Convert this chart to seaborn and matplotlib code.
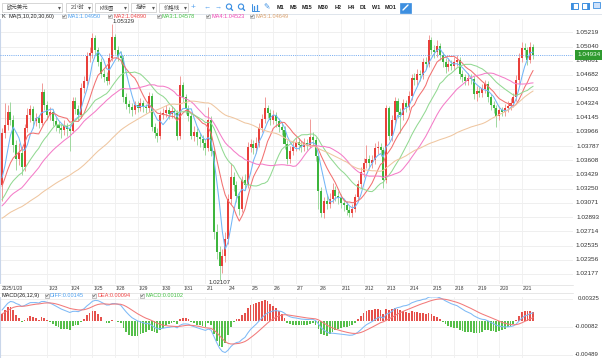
import numpy as np
import pandas as pd
import matplotlib
matplotlib.use("Agg")
import matplotlib.pyplot as plt
import matplotlib.transforms as mtransforms
from matplotlib.patches import Rectangle, Circle
import seaborn as sns

# ---------------- data ----------------
prior_closes = [
    1.0262, 1.0256, 1.0265, 1.0269, 1.0260, 1.0253, 1.0258, 1.0266, 1.0274, 1.0270,
    1.0277, 1.0273, 1.0264, 1.0268, 1.0275, 1.0281, 1.0273, 1.0267, 1.0263, 1.0271,
    1.0278, 1.0284, 1.0280, 1.0273, 1.0277, 1.0286, 1.0291, 1.0283, 1.0279, 1.0288,
    1.0295, 1.0290, 1.0284, 1.0282, 1.0289, 1.0293, 1.0286, 1.0281, 1.0287, 1.0292,
    1.0291, 1.0286, 1.0280, 1.0284, 1.0290, 1.0296, 1.0302, 1.0298, 1.0305, 1.0311,
    1.0307, 1.0315, 1.0322, 1.0318, 1.0326, 1.0333, 1.0321, 1.0316, 1.0329,
]

opens = [
    1.0330, 1.0395, 1.0405, 1.0421, 1.0412, 1.0380, 1.0362, 1.0370, 1.0352, 1.0401,
    1.0418, 1.0425, 1.0410, 1.0414, 1.0408, 1.0447, 1.0430, 1.0418, 1.0421, 1.0410,
    1.0405, 1.0402, 1.0399, 1.0404, 1.0400, 1.0398, 1.0436, 1.0425, 1.0418, 1.0452,
    1.0460, 1.0492, 1.0496, 1.0515, 1.0499, 1.0485, 1.0470, 1.0466, 1.0461, 1.0490,
    1.0516, 1.0500, 1.0492, 1.0489, 1.0440, 1.0432, 1.0428, 1.0424, 1.0431, 1.0427,
    1.0433, 1.0428, 1.0426, 1.0442, 1.0403, 1.0395, 1.0392, 1.0418, 1.0420, 1.0424,
    1.0419, 1.0423, 1.0420, 1.0391, 1.0455, 1.0440, 1.0425, 1.0416, 1.0392, 1.0397,
    1.0390, 1.0387, 1.0382, 1.0376, 1.0412, 1.0372, 1.0270, 1.0245, 1.0228, 1.0240,
    1.0262, 1.0312, 1.0340, 1.0330, 1.0316, 1.0300, 1.0336, 1.0330, 1.0378, 1.0381,
    1.0376, 1.0383, 1.0402, 1.0413, 1.0426, 1.0420, 1.0412, 1.0418, 1.0410, 1.0403,
    1.0399, 1.0381, 1.0362, 1.0373, 1.0378, 1.0384, 1.0380, 1.0377, 1.0383, 1.0380,
    1.0390, 1.0386, 1.0366, 1.0322, 1.0294, 1.0309, 1.0306, 1.0312, 1.0323, 1.0316,
    1.0313, 1.0307, 1.0304, 1.0298, 1.0295, 1.0300, 1.0314, 1.0331, 1.0346, 1.0358,
    1.0362, 1.0357, 1.0361, 1.0376, 1.0378, 1.0374, 1.0336, 1.0426, 1.0392, 1.0412,
    1.0435, 1.0421, 1.0418, 1.0433, 1.0428, 1.0442, 1.0465, 1.0462, 1.0470, 1.0468,
    1.0484, 1.0482, 1.0512, 1.0500, 1.0497, 1.0505, 1.0493, 1.0485, 1.0478, 1.0482,
    1.0480, 1.0485, 1.0487, 1.0469, 1.0466, 1.0461, 1.0465, 1.0463, 1.0444, 1.0448,
    1.0446, 1.0451, 1.0457, 1.0440, 1.0430, 1.0427, 1.0417, 1.0424, 1.0422, 1.0427,
    1.0429, 1.0433, 1.0440, 1.0462, 1.0490, 1.0502, 1.0499, 1.0487, 1.0503,
]

highs = [
    1.0401, 1.0433, 1.0431, 1.0434, 1.0418, 1.0386, 1.0383, 1.0375, 1.0407, 1.0427,
    1.0431, 1.0429, 1.0420, 1.0418, 1.0458, 1.0451, 1.0435, 1.0428, 1.0425, 1.0415,
    1.0410, 1.0407, 1.0411, 1.0408, 1.0405, 1.0441, 1.0440, 1.0430, 1.0458, 1.0467,
    1.0497, 1.0503, 1.0521, 1.0519, 1.0503, 1.0490, 1.0476, 1.0472, 1.0496, 1.05329,
    1.0520, 1.0505, 1.0498, 1.0493, 1.0446, 1.0437, 1.0433, 1.0436, 1.0435, 1.0439,
    1.0437, 1.0432, 1.0447, 1.0445, 1.0408, 1.0401, 1.0423, 1.0426, 1.0430, 1.0428,
    1.0429, 1.0427, 1.0424, 1.0467, 1.0459, 1.0444, 1.0430, 1.0420, 1.0404, 1.0401,
    1.0395, 1.0393, 1.0388, 1.0428, 1.0416, 1.0376, 1.0281, 1.0253, 1.0249, 1.0270,
    1.0318, 1.0357, 1.0346, 1.0335, 1.0321, 1.0341, 1.0344, 1.0384, 1.0388, 1.0386,
    1.0390, 1.0408, 1.0419, 1.0440, 1.0431, 1.0425, 1.0424, 1.0422, 1.0414, 1.0409,
    1.0404, 1.0386, 1.0379, 1.0385, 1.0390, 1.0389, 1.0385, 1.0389, 1.0388, 1.0413,
    1.0396, 1.0390, 1.0370, 1.0327, 1.0315, 1.0318, 1.0320, 1.0332, 1.0328, 1.0322,
    1.0318, 1.0312, 1.0309, 1.0303, 1.0306, 1.0319, 1.0336, 1.0352, 1.0364, 1.0380,
    1.0368, 1.0367, 1.0382, 1.0385, 1.0383, 1.0378, 1.0431, 1.0429, 1.0418, 1.0441,
    1.0439, 1.0426, 1.0438, 1.0437, 1.0448, 1.0470, 1.0471, 1.0476, 1.0475, 1.0490,
    1.0491, 1.0519, 1.0516, 1.0506, 1.0512, 1.0509, 1.0497, 1.0489, 1.0488, 1.0487,
    1.0491, 1.0493, 1.0491, 1.0474, 1.0470, 1.0471, 1.0470, 1.0467, 1.0454, 1.0453,
    1.0457, 1.0462, 1.0460, 1.0444, 1.0435, 1.0431, 1.0429, 1.0428, 1.0432, 1.0435,
    1.0439, 1.0446, 1.0468, 1.0496, 1.0510, 1.0509, 1.0504, 1.0510, 1.0507,
]

lows = [
    1.0309, 1.0389, 1.0399, 1.0405, 1.0371, 1.0348, 1.0355, 1.0342, 1.0347, 1.0396,
    1.0409, 1.0402, 1.0404, 1.0401, 1.0405, 1.0424, 1.0412, 1.0411, 1.0404, 1.0398,
    1.0395, 1.0389, 1.0393, 1.0392, 1.0372, 1.0395, 1.0419, 1.0411, 1.0414, 1.0445,
    1.0455, 1.0485, 1.0490, 1.0493, 1.0479, 1.0464, 1.0459, 1.0456, 1.0457, 1.0486,
    1.0494, 1.0486, 1.0482, 1.0434, 1.0425, 1.0420, 1.0417, 1.0419, 1.0421, 1.0423,
    1.0422, 1.0420, 1.0422, 1.0398, 1.0389, 1.0384, 1.0388, 1.0413, 1.0415, 1.0413,
    1.0414, 1.0414, 1.0386, 1.0388, 1.0434, 1.0419, 1.0410, 1.0387, 1.0385, 1.0380,
    1.0377, 1.0374, 1.0368, 1.0372, 1.0366, 1.0262, 1.0236, 1.02107, 1.0219, 1.0233,
    1.0255, 1.0306, 1.0322, 1.0308, 1.0292, 1.0296, 1.0324, 1.0326, 1.0371, 1.0369,
    1.0370, 1.0378, 1.0396, 1.0408, 1.0414, 1.0405, 1.0406, 1.0403, 1.0397, 1.0393,
    1.0375, 1.0356, 1.0357, 1.0367, 1.0372, 1.0374, 1.0371, 1.0372, 1.0374, 1.0376,
    1.0380, 1.0360, 1.0300, 1.0289, 1.0288, 1.0300, 1.0301, 1.0307, 1.0310, 1.0306,
    1.0301, 1.0297, 1.0292, 1.0289, 1.0290, 1.0296, 1.0309, 1.0326, 1.0340, 1.0351,
    1.0350, 1.0351, 1.0356, 1.0369, 1.0366, 1.0326, 1.0332, 1.0386, 1.0385, 1.0406,
    1.0414, 1.0395, 1.0412, 1.0421, 1.0424, 1.0437, 1.0455, 1.0456, 1.0461, 1.0463,
    1.0476, 1.0478, 1.0494, 1.0490, 1.0491, 1.0487, 1.0478, 1.0471, 1.0473, 1.0474,
    1.0475, 1.0480, 1.0463, 1.0459, 1.0455, 1.0456, 1.0457, 1.0438, 1.0436, 1.0440,
    1.0441, 1.0446, 1.0434, 1.0424, 1.0420, 1.0403, 1.0412, 1.0416, 1.0417, 1.0421,
    1.0424, 1.0428, 1.0436, 1.0457, 1.0484, 1.0491, 1.0481, 1.0483, 1.0488,
]

closes = [
    1.0395, 1.0405, 1.0421, 1.0412, 1.0380, 1.0362, 1.0370, 1.0352, 1.0401, 1.0418,
    1.0425, 1.0410, 1.0414, 1.0408, 1.0447, 1.0430, 1.0418, 1.0421, 1.0410, 1.0405,
    1.0402, 1.0399, 1.0404, 1.0400, 1.0398, 1.0436, 1.0425, 1.0418, 1.0452, 1.0460,
    1.0492, 1.0496, 1.0515, 1.0499, 1.0485, 1.0470, 1.0466, 1.0461, 1.0490, 1.0516,
    1.0500, 1.0492, 1.0489, 1.0440, 1.0432, 1.0428, 1.0424, 1.0431, 1.0427, 1.0433,
    1.0428, 1.0426, 1.0442, 1.0403, 1.0395, 1.0392, 1.0418, 1.0420, 1.0424, 1.0419,
    1.0423, 1.0420, 1.0391, 1.0455, 1.0440, 1.0425, 1.0416, 1.0392, 1.0397, 1.0390,
    1.0387, 1.0382, 1.0376, 1.0412, 1.0372, 1.0270, 1.0245, 1.0228, 1.0240, 1.0262,
    1.0312, 1.0340, 1.0330, 1.0316, 1.0300, 1.0336, 1.0330, 1.0378, 1.0381, 1.0376,
    1.0383, 1.0402, 1.0413, 1.0426, 1.0420, 1.0412, 1.0418, 1.0410, 1.0403, 1.0399,
    1.0381, 1.0362, 1.0373, 1.0378, 1.0384, 1.0380, 1.0377, 1.0383, 1.0380, 1.0390,
    1.0386, 1.0366, 1.0322, 1.0294, 1.0309, 1.0306, 1.0312, 1.0323, 1.0316, 1.0313,
    1.0307, 1.0304, 1.0298, 1.0295, 1.0300, 1.0314, 1.0331, 1.0346, 1.0358, 1.0362,
    1.0357, 1.0361, 1.0376, 1.0378, 1.0374, 1.0336, 1.0426, 1.0392, 1.0412, 1.0435,
    1.0421, 1.0418, 1.0433, 1.0428, 1.0442, 1.0465, 1.0462, 1.0470, 1.0468, 1.0484,
    1.0482, 1.0512, 1.0500, 1.0497, 1.0505, 1.0493, 1.0485, 1.0478, 1.0482, 1.0480,
    1.0485, 1.0487, 1.0469, 1.0466, 1.0461, 1.0465, 1.0463, 1.0444, 1.0448, 1.0446,
    1.0451, 1.0457, 1.0440, 1.0430, 1.0427, 1.0417, 1.0424, 1.0422, 1.0427, 1.0429,
    1.0433, 1.0440, 1.0462, 1.0490, 1.0502, 1.0499, 1.0487, 1.0503, 1.04934,
]

date_labels = ["2025/1/20", "1/23", "1/24", "1/25", "1/28", "1/29", "1/30", "1/31",
               "2/1", "2/4", "2/5", "2/6", "2/7", "2/8", "2/11", "2/12", "2/13",
               "2/14", "2/15", "2/18", "2/19", "2/20", "2/21"]
price_ticks = ["1.05219", "1.05040", "1.04861", "1.04682", "1.04503", "1.04324",
               "1.04145", "1.03966", "1.03787", "1.03608", "1.03429", "1.03250",
               "1.03071", "1.02893", "1.02714", "1.02535", "1.02356", "1.02177"]
macd_ticks = ["0.00325", "-0.00082", "-0.00489"]

ma_periods = [5, 10, 20, 30, 60]
ma_names = ["MA1", "MA2", "MA3", "MA4", "MA5"]
ma_values = ["1.04950", "1.04890", "1.04578", "1.04523", "1.04649"]
ma_text_colors = ["#4a9ff0", "#f04444", "#44c044", "#f046b4", "#d9a06c"]
ma_line_colors = ["#72b6f7", "#f27070", "#92d992", "#f47cc8", "#efc6a0"]
macd_names = ["DIFF", "DEA", "MACD"]
macd_values = ["0.00145", "0.00094", "0.00102"]

toolbar_menus = ["欧元美元", "2小时", "K线图", "指标", "价格线"]
timeframes = ["M1", "M5", "M15", "M30", "H2", "H4", "D1", "W1", "MO1"]

# ---------------- style ----------------
sns.set_theme(style="white")
plt.rcParams['font.family'] = ['Liberation Sans', 'Noto Sans CJK SC', 'DejaVu Sans']
plt.rcParams['axes.unicode_minus'] = False

W, H = 602, 361
fig = plt.figure(figsize=(W / 100, H / 100), dpi=100)
fig.patch.set_facecolor("white")

PX0, STEP = 2.0, 2.825          # pixel of first bar, pixels per bar
PLOT_RIGHT = 573


def axes_px(x0, y0, x1, y1, **kw):
    return fig.add_axes([x0 / W, 1 - y1 / H, (x1 - x0) / W, (y1 - y0) / H], **kw)


O = np.array(opens); Hh = np.array(highs); L = np.array(lows); C = np.array(closes)
N = len(C)
xs = np.arange(N)

all_close = pd.Series(prior_closes + closes)
n0 = len(prior_closes)
mas = [all_close.rolling(p).mean().iloc[n0:].to_numpy() for p in ma_periods]
ema12 = all_close.ewm(span=12, adjust=False).mean()
ema26 = all_close.ewm(span=26, adjust=False).mean()
diff = ema12 - ema26
dea = diff.ewm(span=9, adjust=False).mean()
hist = (2 * (diff - dea)).iloc[n0:].to_numpy()
diff_v = diff.iloc[n0:].to_numpy()
dea_v = dea.iloc[n0:].to_numpy()

RED, GREEN = "#e8403b", "#3db53d"

# ---------------- main price axes ----------------
top_px, bot_px = 19, 284
tick_vals = [float(t) for t in price_ticks]
k = (tick_vals[0] - tick_vals[-1]) / (274.0 - 32.3)
ax = axes_px(0, top_px, PLOT_RIGHT, bot_px)
ax.set_ylim(tick_vals[0] - (bot_px - 32.3) * k, tick_vals[0] + (32.3 - top_px) * k)
ax.set_xlim((0 - PX0) / STEP, (PLOT_RIGHT - PX0) / STEP)
for s in ax.spines.values():
    s.set_visible(False)
ax.set_xticks([]); ax.set_yticks([])
ax.set_facecolor("white")

grid_bars = [16 + 8 * i for i in range(len(date_labels) - 1)]
for t in tick_vals:
    ax.axhline(t, color="#ececec", lw=0.6, zorder=0)
for b in grid_bars:
    ax.axvline(b, color="#efefef", lw=0.6, zorder=0)
ax.axvline(ax.get_xlim()[0] + 0.15, color="#c9d6ea", lw=0.8, zorder=0)

up = C >= O
body_col = np.where(up, RED, GREEN)
wick_col = np.where(up, "#f19a97", "#9fd89f")
ax.vlines(xs, L, Hh, colors=wick_col, lw=0.7, zorder=2)
ax.bar(xs, np.maximum(np.abs(C - O), 0.00004), bottom=np.minimum(O, C),
       width=0.72, color=body_col, linewidth=0, zorder=3)

for m, col in zip(mas, ma_line_colors):
    sns.lineplot(x=xs, y=m, ax=ax, color=col, linewidth=0.75, zorder=4,
                 legend=False, errorbar=None)
ax.set_xlabel(""); ax.set_ylabel("")
ax.set_xticks([]); ax.set_yticks([])

# current price line + label
ax.axhline(C[-1], color="#6aa5ef", lw=0.6, ls=(0, (1.3, 1.3)), zorder=5)
blend = mtransforms.blended_transform_factory(ax.transAxes, ax.transData)
for t, lab in zip(tick_vals, price_ticks):
    ax.text(599 / PLOT_RIGHT, t, lab, transform=blend, ha="right", va="center",
            fontsize=4.6, color="#333333", clip_on=False, zorder=6)
ax.text(577 / PLOT_RIGHT, C[-1], f"{C[-1]:.5f}", transform=blend, ha="left",
        va="center", fontsize=4.6, color="#eaffea", clip_on=False, zorder=8,
        bbox=dict(boxstyle="square,pad=0.35", fc="#2f9a2f", ec="#2f9a2f", lw=0))

# high / low annotations
ih = int(np.argmax(Hh)); il = int(np.argmin(L))
ax.text(ih, Hh[ih], f"{Hh[ih]:.5f}", ha="left", va="bottom", fontsize=4.4,
        color="#333333", clip_on=False, zorder=7)
ax.text(il, L[il], f"{L[il]:.5f}", ha="center", va="top", fontsize=4.4,
        color="#333333", clip_on=False, zorder=7)

# ---------------- MACD axes ----------------
mt_px, mb_px = 297, 358
mvals = [float(t) for t in macd_ticks]
k2 = (mvals[0] - mvals[-1]) / (355.0 - 299.0)
ax2 = axes_px(0, mt_px, PLOT_RIGHT, mb_px)
ax2.set_ylim(mvals[-1] - (mb_px - 355) * k2, mvals[0] + (299 - mt_px) * k2)
ax2.set_xlim(ax.get_xlim())
for s in ax2.spines.values():
    s.set_visible(False)
ax2.set_facecolor("white")
for t in mvals:
    ax2.axhline(t, color="#ececec", lw=0.6, zorder=0)
for b in grid_bars:
    ax2.axvline(b, color="#efefef", lw=0.6, zorder=0)
ax2.axvline(ax.get_xlim()[0] + 0.15, color="#c9d6ea", lw=0.8, zorder=0)
ax2.bar(xs, hist, width=0.62, color=np.where(hist >= 0, "#e5514c", "#55bf4a"),
        linewidth=0, zorder=2)
sns.lineplot(x=xs, y=diff_v, ax=ax2, color="#7fbaf6", linewidth=0.75, zorder=3,
             legend=False, errorbar=None)
sns.lineplot(x=xs, y=dea_v, ax=ax2, color="#f27a7a", linewidth=0.75, zorder=3,
             legend=False, errorbar=None)
ax2.set_xlabel(""); ax2.set_ylabel("")
ax2.set_xticks([]); ax2.set_yticks([])
blend2 = mtransforms.blended_transform_factory(ax2.transAxes, ax2.transData)
for t, lab in zip(mvals, macd_ticks):
    ax2.text(599 / PLOT_RIGHT, t, lab, transform=blend2, ha="right", va="center",
             fontsize=4.3, color="#333333", clip_on=False)

# ---------------- overlay (toolbar, legends, dates) ----------------
ov = fig.add_axes([0, 0, 1, 1], zorder=10)
ov.set_xlim(0, W); ov.set_ylim(H, 0); ov.axis("off")


def rect(x0, y0, x1, y1, fc="white", ec="#c6c6c6", lw=0.5):
    ov.add_patch(Rectangle((x0, y0), x1 - x0, y1 - y0, facecolor=fc,
                           edgecolor=ec, linewidth=lw))


def txt(x, y, s, size=4.0, color="#333333", ha="left", va="center", **kw):
    ov.text(x, y, s, fontsize=size, color=color, ha=ha, va=va, **kw)


# toolbar
menu_boxes = [(2, 62), (66, 92), (95, 128), (131, 156), (159, 188)]
for (x0, x1), name in zip(menu_boxes, toolbar_menus):
    rect(x0, 2.5, x1, 12)
    txt(x0 + 5, 7.3, name, size=3.9, color="#444444")
    txt(x1 - 3, 7.3, "▾", size=4.2, color="#555555", ha="center")
ic = "#5aa4ee"
txt(193, 7.3, "+", size=6, color=ic, ha="center")
txt(207, 7.3, "←", size=5, color=ic, ha="center")
txt(218, 7.3, "→", size=5, color=ic, ha="center")
for cx, sign in [(229, "+"), (241, "-")]:
    ov.add_patch(Circle((cx, 6.6), 2.6, fill=False, ec="#3b8fe2", lw=0.8))
    ov.plot([cx + 1.8, cx + 3.6], [8.4, 10.4], color="#3b8fe2", lw=1.0)
ov.plot([252, 252, 259], [3.5, 10.5, 10.5], color="#3b8fe2", lw=0.7)
ov.plot([254, 254], [6, 9.5], color="#3b8fe2", lw=0.9)
ov.plot([256.5, 256.5], [4.5, 9.5], color="#3b8fe2", lw=0.9)
txt(267, 7.3, "✎", size=5.5, color="#3b8fe2", ha="center",
    fontfamily=["DejaVu Sans"])
tf_x = [277, 290, 302, 318, 335, 348, 360, 372, 385]
for x, s in zip(tf_x, timeframes):
    txt(x, 7.4, s, size=4.0, color="#222222", fontweight="bold")
rect(400, 2.5, 411, 12.5, fc="#3d8fe0", ec="#3d8fe0")
ov.plot([403, 408], [10, 5], color="white", lw=1.0)
rect(571, 3, 578, 9, fc="white", ec="#3d8fe0", lw=0.7)
rect(571, 3, 572.8, 9, fc="#3d8fe0", ec="#3d8fe0", lw=0.5)
rect(582, 3, 589, 9, fc="white", ec="#3d8fe0", lw=0.7)
rect(587.2, 3, 589, 9, fc="#3d8fe0", ec="#3d8fe0", lw=0.5)
rect(593, 2, 600, 8, fc="#cfe2fa", ec="#3d8fe0", lw=0.6)
ov.plot([0, W], [14, 14], color="#dfe5ec", lw=0.7)

# check box helper


def checkbox(x, y):
    rect(x, y - 2.1, x + 4.2, y + 2.1, fc="#f3f3f3", ec="#9a9a9a", lw=0.4)
    ov.plot([x + 0.9, x + 1.8, x + 3.4], [y - 0.1, y + 1.1, y - 1.3],
            color="#555555", lw=0.45)


# MA legend row
txt(2, 16.2, "K", size=4.0, color="#222222")
txt(8.5, 16.2, "MA(5,10,20,30,60)", size=4.0, color="#222222")
leg_x = [62, 108, 157, 206, 250]
for x, nm, v, col in zip(leg_x, ma_names, ma_values, ma_text_colors):
    checkbox(x, 16.2)
    txt(x + 5, 16.2, f"{nm}:{v}", size=4.0, color=col)

# date band
ov.plot([0, PLOT_RIGHT], [285, 285], color="#e3e3e3", lw=0.6)
ov.plot([0, PLOT_RIGHT], [292.5, 292.5], color="#e3e3e3", lw=0.6)
date_bars = [0] + grid_bars
for b, lab in zip(date_bars, date_labels):
    txt(PX0 + STEP * b + (0 if b == 0 else 1), 288.7, lab, size=3.4, color="#333333")

# MACD legend row
txt(2, 295.5, "MACD(26,12,9)", size=4.0, color="#222222")
mleg_x = [45, 92, 140]
mleg_col = ["#4a9ff0", "#f04444", "#44c044"]
for x, nm, v, col in zip(mleg_x, macd_names, macd_values, mleg_col):
    checkbox(x, 295.5)
    txt(x + 5, 295.5, f"{nm}:{v}", size=4.0, color=col)

fig.savefig("out.png", dpi=100, facecolor="white")
